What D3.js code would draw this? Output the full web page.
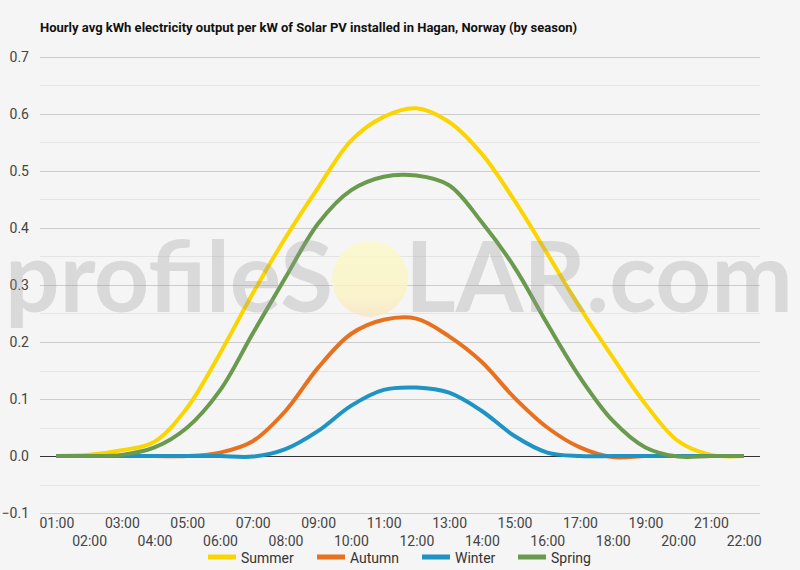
<!DOCTYPE html>
<html>
<head>
<meta charset="utf-8">
<script src="https://cdn.jsdelivr.net/npm/d3@7"></script>
<style>
  body { margin: 0; background: #f5f5f5; }
  svg { display: block; font-family: Roboto, "Noto Sans", sans-serif; }
</style>
</head>
<body>
<div id="chart"></div>
<script>
// hours on the category axis
const hours = ['01:00', '02:00', '03:00', '04:00', '05:00', '06:00', '07:00', '08:00', '09:00', '10:00', '11:00',
  '12:00', '13:00', '14:00', '15:00', '16:00', '17:00', '18:00', '19:00', '20:00', '21:00', '22:00'];

// values (kWh per kW)
const summer = [0, 0.002, 0.01, 0.025, 0.085, 0.18, 0.285, 0.383, 0.471, 0.553, 0.595,
  0.61, 0.586, 0.53, 0.448, 0.355, 0.26, 0.173, 0.091, 0.026, 0.002, 0];
const autumn = [0, 0, 0, 0, 0, 0.006, 0.026, 0.079, 0.155, 0.214, 0.239,
  0.241, 0.21, 0.165, 0.102, 0.05, 0.015, -0.002, 0, 0, 0, 0];
const winter = [0, 0, 0, 0, 0, 0, -0.001, 0.012, 0.044, 0.088, 0.116,
  0.12, 0.111, 0.079, 0.035, 0.006, 0, 0, 0, 0, 0, 0];
const spring = [0, 0, 0.002, 0.015, 0.05, 0.115, 0.215, 0.313, 0.408, 0.466, 0.49,
  0.492, 0.475, 0.41, 0.331, 0.232, 0.138, 0.062, 0.015, -0.001, 0, 0];

const seriesNames = ['Summer', 'Autumn', 'Winter', 'Spring'];
const seriesValues = [summer, autumn, winter, spring];
const colors = ['#fcd500', '#e8711f', '#1e93c4', '#6a9a4e'];
const yTicks = [-0.1, 0, 0.1, 0.2, 0.3, 0.4, 0.5, 0.6, 0.7];

const width = 800, height = 570;
const margin = { top: 57, right: 40, bottom: 58, left: 40 };

const svg = d3.select('#chart')
  .append('svg')
  .attr('width', width)
  .attr('height', height)
  .style('background', '#f5f5f5');

// Title
svg.append('text')
  .attr('x', 40)
  .attr('y', 32)
  .style('font-size', '13px')
  .style('font-weight', 'bold')
  .style('fill', '#111')
  .text('Hourly avg kWh electricity output per kW of Solar PV installed in Hagan, Norway (by season)');

// Scales
const x = d3.scalePoint()
  .domain(hours)
  .range([margin.left, width - margin.right])
  .padding(0.5);

const y = d3.scaleLinear()
  .domain([-0.1, 0.7])
  .range([height - margin.bottom + 1, margin.top]);

// Minor gridlines
const minor = d3.range(-0.05, 0.7, 0.1);
svg.append('g')
  .selectAll('line')
  .data(minor)
  .enter()
  .append('line')
  .attr('x1', margin.left)
  .attr('x2', width - margin.right)
  .attr('y1', d => Math.round(y(d)) + 0.5)
  .attr('y2', d => Math.round(y(d)) + 0.5)
  .style('stroke', '#e4e4e4');

// Major gridlines
svg.append('g')
  .selectAll('line')
  .data(yTicks)
  .enter()
  .append('line')
  .attr('x1', margin.left)
  .attr('x2', width - margin.right)
  .attr('y1', d => Math.round(y(d)) + 0.5)
  .attr('y2', d => Math.round(y(d)) + 0.5)
  .style('stroke', d => d === 0 ? '#333' : '#cccccc');

// Y axis labels
const yAxis = svg.append('g')
  .attr('transform', `translate(${margin.left - 8},0)`)
  .call(d3.axisLeft(y).tickValues(yTicks).tickSize(0).tickFormat(d3.format('.1f')));
yAxis.select('.domain').remove();
yAxis.selectAll('text')
  .style('font-family', 'Roboto, sans-serif')
  .style('font-size', '14px')
  .style('fill', '#444');

// X axis labels, alternating rows
const xAxis = svg.append('g')
  .attr('transform', `translate(0,${height - margin.bottom})`)
  .call(d3.axisBottom(x).tickSize(0));
xAxis.select('.domain').remove();
xAxis.selectAll('text')
  .style('font-family', 'Roboto, sans-serif')
  .style('font-size', '14px')
  .style('fill', '#444')
  .attr('dy', null)
  .attr('y', (d, i) => i % 2 === 0 ? 16 : 34);

// Lines
const line = d3.line()
  .x((d, i) => x(hours[i]))
  .y(d => y(d))
  .curve(d3.curveCatmullRom.alpha(0.5));

svg.append('g')
  .selectAll('path')
  .data(seriesValues)
  .enter()
  .append('path')
  .attr('d', d => line(d))
  .style('fill', 'none')
  .style('stroke', (d, i) => colors[i])
  .style('stroke-width', 4)
  .style('stroke-linejoin', 'round');

// Watermark, laid over the plot
const wm = svg.append('g').style('pointer-events', 'none');
const sunGrad = svg.append('defs').append('linearGradient')
  .attr('id', 'sun')
  .attr('x1', 0).attr('y1', 0).attr('x2', 0).attr('y2', 1);
sunGrad.append('stop').attr('offset', '0%').attr('stop-color', '#fbf9c8');
sunGrad.append('stop').attr('offset', '70%').attr('stop-color', '#faf3c4');
sunGrad.append('stop').attr('offset', '100%').attr('stop-color', '#f8e6c6');
wm.append('text')
  .attr('x', 5)
  .attr('y', 312)
  .attr('textLength', 328)
  .attr('lengthAdjust', 'spacingAndGlyphs')
  .style('font-family', 'Lato, sans-serif')
  .style('font-size', '98px')
  .style('font-weight', 'bold')
  .style('fill', '#9a9a9a')
  .style('opacity', 0.3)
  .text('profileS');
wm.append('circle')
  .attr('cx', 370)
  .attr('cy', 279)
  .attr('r', 38)
  .style('fill', 'url(#sun)')
  .style('opacity', 0.85);
wm.append('text')
  .attr('x', 405)
  .attr('y', 312)
  .attr('textLength', 388)
  .attr('lengthAdjust', 'spacingAndGlyphs')
  .style('font-family', 'Lato, sans-serif')
  .style('font-size', '98px')
  .style('font-weight', 'bold')
  .style('fill', '#9a9a9a')
  .style('opacity', 0.3)
  .text('LAR.com');

// Legend
const legendX = [208, 317, 422, 518];
const legend = svg.append('g')
  .selectAll('g')
  .data(seriesNames)
  .enter()
  .append('g')
  .attr('transform', (d, i) => `translate(${legendX[i]},557)`);
legend.append('line')
  .attr('x1', 0)
  .attr('x2', 28)
  .style('stroke', (d, i) => colors[i])
  .style('stroke-width', 5);
legend.append('text')
  .attr('x', 33)
  .attr('y', 6)
  .style('font-size', '14px')
  .style('fill', '#333')
  .text(d => d);
</script>
</body>
</html>
